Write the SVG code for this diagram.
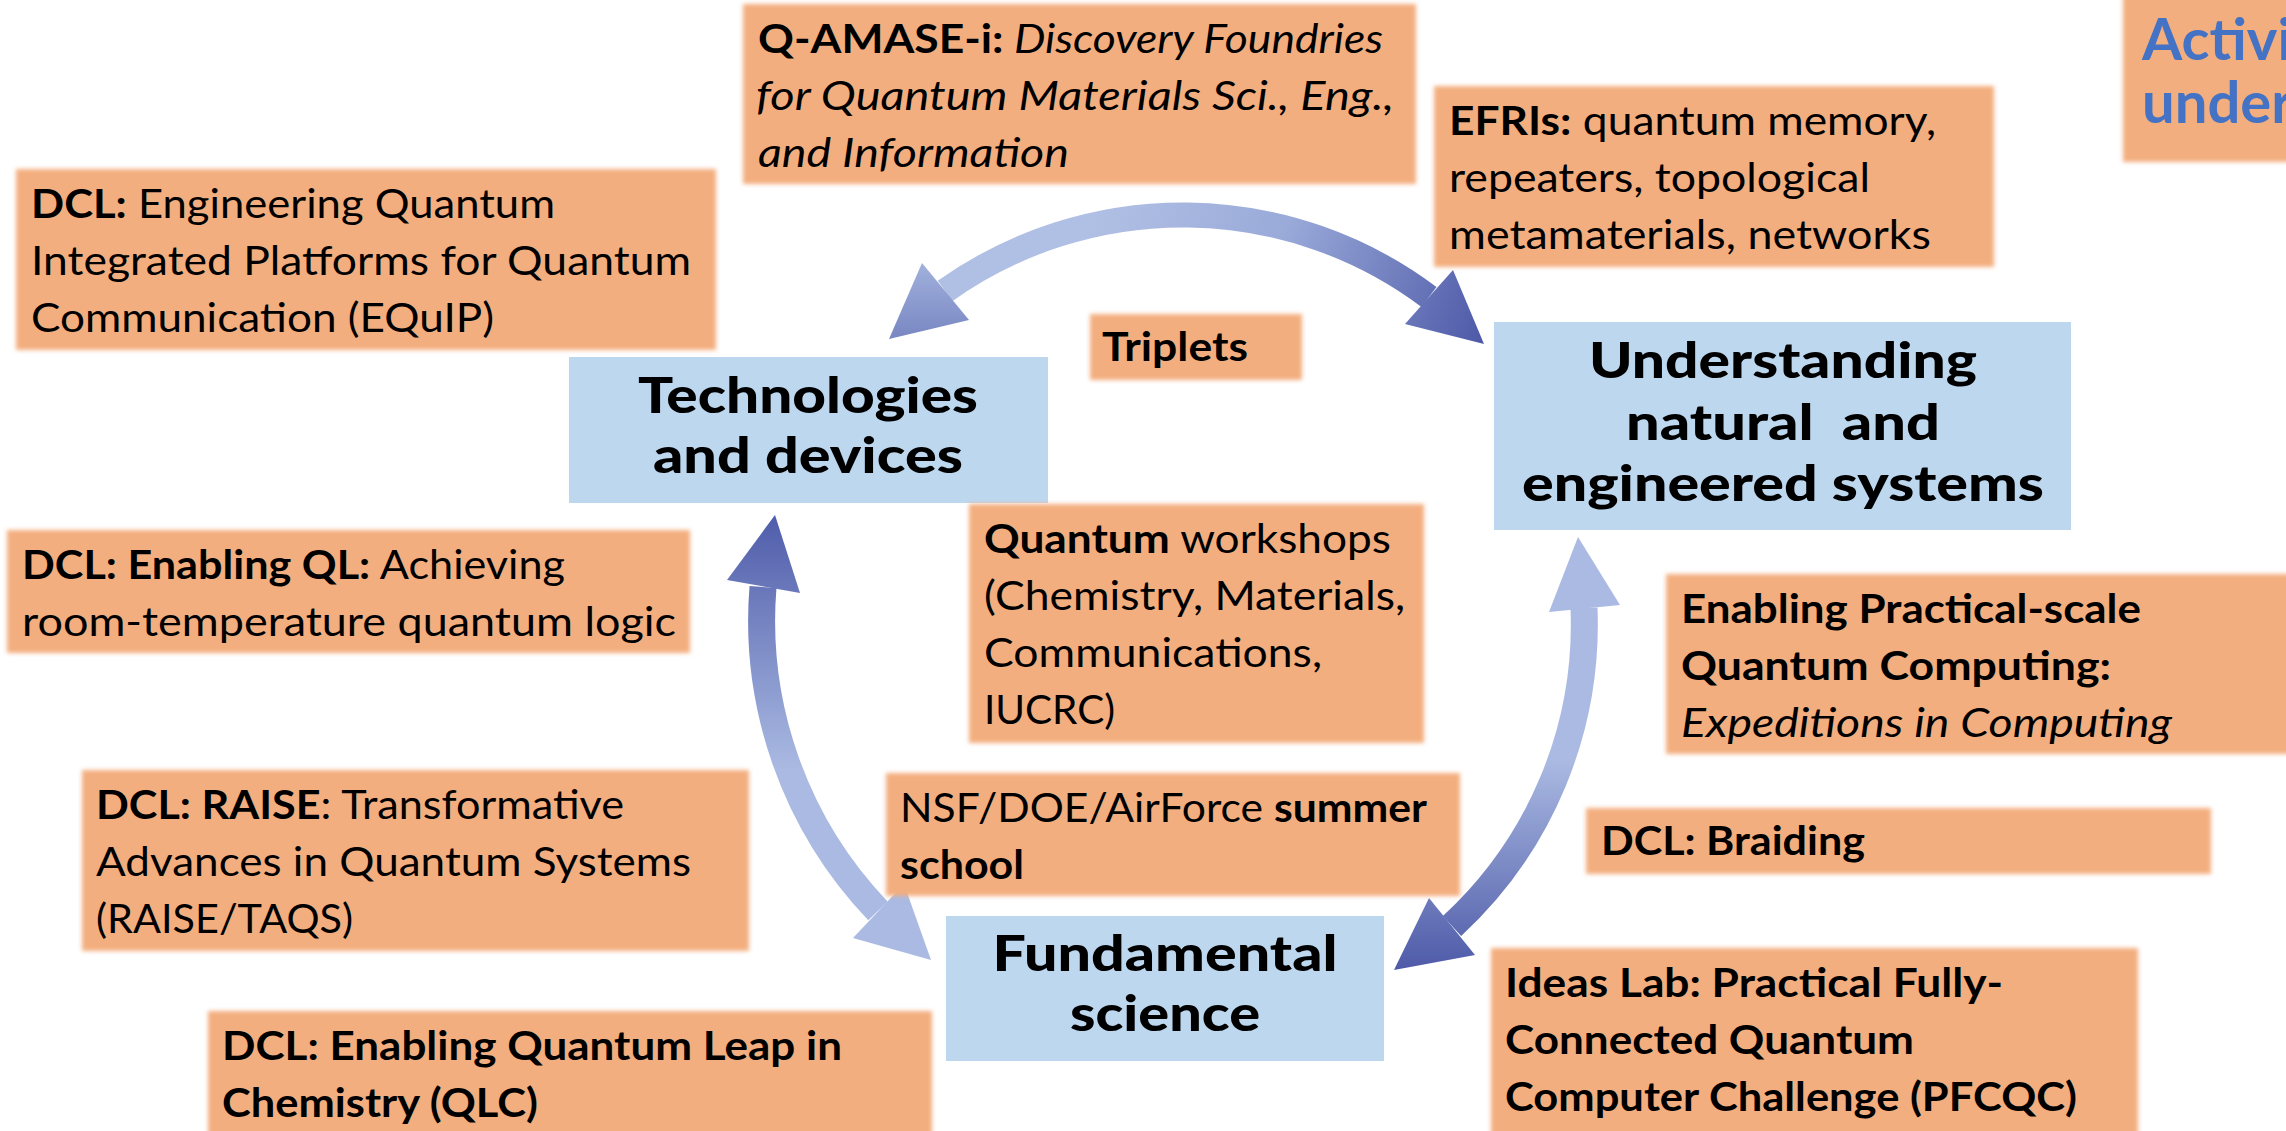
<svg xmlns="http://www.w3.org/2000/svg" width="2286" height="1131" viewBox="0 0 2286 1131">
<style>
.box{fill:#F3AE7F;filter:url(#soft)}
.core{fill:#BDD7EE}
.t{font-family:Lato,'Liberation Sans',sans-serif;font-size:40px;fill:#000}
.b{font-weight:bold}
.i{font-style:italic}
.h{font-family:Lato,'Liberation Sans',sans-serif;font-size:49px;font-weight:900;fill:#000;text-anchor:middle}
.band{fill:none}
</style>
<defs>
<filter id="soft" x="-5%" y="-10%" width="110%" height="120%"><feGaussianBlur stdDeviation="2"/></filter>
<linearGradient id="gTop" gradientUnits="userSpaceOnUse" x1="1100" y1="200" x2="1480" y2="345">
<stop offset="0" stop-color="#B0C0E4"/><stop offset="0.45" stop-color="#9AAAD9"/><stop offset="1" stop-color="#4E5AA8"/>
</linearGradient>
<linearGradient id="gTopL" gradientUnits="userSpaceOnUse" x1="0" y1="250" x2="0" y2="340">
<stop offset="0" stop-color="#A8B8E0"/><stop offset="1" stop-color="#7886C2"/>
</linearGradient>
<linearGradient id="gLeft" gradientUnits="userSpaceOnUse" x1="0" y1="515" x2="0" y2="770">
<stop offset="0" stop-color="#4F5CAA"/><stop offset="1" stop-color="#AABAE2"/>
</linearGradient>
<linearGradient id="gRight" gradientUnits="userSpaceOnUse" x1="0" y1="760" x2="0" y2="970">
<stop offset="0" stop-color="#AABAE2"/><stop offset="1" stop-color="#4E5AA8"/>
</linearGradient>
</defs>
<rect width="2286" height="1131" fill="#fff"/>

<g id="connectors">
<g id="arrow-top">
<path class="band" d="M 945 291 A 410 410 0 0 1 1429 297" stroke="url(#gTop)" stroke-width="25"/>
<polygon points="889,339 922,263 969,320" fill="url(#gTopL)"/>
<polygon points="1484,344 1453,270 1405,324" fill="url(#gTop)"/>
</g>
<g id="arrow-left">
<path class="band" d="M 763 587 A 420 420 0 0 0 878 911" stroke="url(#gLeft)" stroke-width="27"/>
<polygon points="775,515 727,580 800,593" fill="url(#gLeft)"/>
<polygon points="931,960 853,938 904,884" fill="url(#gLeft)"/>
</g>
<g id="arrow-right">
<path class="band" d="M 1584 608 A 410 410 0 0 1 1452 926" stroke="url(#gRight)" stroke-width="27"/>
<polygon points="1578,537 1549,612 1620,605" fill="url(#gRight)"/>
<polygon points="1394,970 1429,898 1475,955" fill="url(#gRight)"/>
</g>
</g>

<g id="node-qamase">
<rect class="box" x="743" y="4" width="673" height="180"/>
<text class="t" x="758" y="52.5" textLength="625" lengthAdjust="spacingAndGlyphs"><tspan class="b">Q-AMASE-i:</tspan><tspan class="i"> Discovery Foundries</tspan></text>
<text class="t i" x="756" y="110" textLength="638" lengthAdjust="spacingAndGlyphs">for Quantum Materials Sci., Eng.,</text>
<text class="t i" x="758" y="167" textLength="311" lengthAdjust="spacingAndGlyphs">and Information</text>
</g>

<g id="node-equip">
<rect class="box" x="16" y="169" width="700" height="181"/>
<text class="t" x="31" y="218" textLength="524" lengthAdjust="spacingAndGlyphs"><tspan class="b">DCL:</tspan> Engineering Quantum</text>
<text class="t" x="31" y="275" textLength="660" lengthAdjust="spacingAndGlyphs">Integrated Platforms for Quantum</text>
<text class="t" x="31" y="332" textLength="463" lengthAdjust="spacingAndGlyphs">Communication (EQuIP)</text>
</g>

<g id="node-efri">
<rect class="box" x="1434" y="86" width="560" height="181"/>
<text class="t" x="1449" y="134.5" textLength="487" lengthAdjust="spacingAndGlyphs"><tspan class="b">EFRIs:</tspan> quantum memory,</text>
<text class="t" x="1449" y="192" textLength="421" lengthAdjust="spacingAndGlyphs">repeaters, topological</text>
<text class="t" x="1449" y="249" textLength="482" lengthAdjust="spacingAndGlyphs">metamaterials, networks</text>
</g>

<g id="node-activi">
<rect class="box" x="2123" y="-6" width="180" height="168"/>
<text class="t b" x="2142" y="60" style="font-size:58px;fill:#4472C4">Activi</text>
<text class="t b" x="2142" y="123" style="font-size:58px;fill:#4472C4">under</text>
</g>

<g id="node-triplets">
<rect class="box" x="1090" y="314" width="212" height="66"/>
<text class="t b" x="1102" y="361" textLength="146" lengthAdjust="spacingAndGlyphs">Triplets</text>
</g>

<g id="node-technologies">
<rect class="core" x="569" y="357" width="479" height="146"/>
<text class="h" x="808" y="412.5" textLength="340" lengthAdjust="spacingAndGlyphs">Technologies</text>
<text class="h" x="808" y="472.5" textLength="310" lengthAdjust="spacingAndGlyphs">and devices</text>
</g>

<g id="node-understanding">
<rect class="core" x="1494" y="322" width="577" height="208"/>
<text class="h" x="1783" y="378" textLength="388" lengthAdjust="spacingAndGlyphs">Understanding</text>
<text class="h" x="1783" y="440" textLength="314" lengthAdjust="spacingAndGlyphs" xml:space="preserve">natural  and</text>
<text class="h" x="1783" y="501" textLength="522" lengthAdjust="spacingAndGlyphs">engineered systems</text>
</g>

<g id="node-fundamental">
<rect class="core" x="946" y="916" width="438" height="145"/>
<text class="h" x="1165" y="970.5" textLength="345" lengthAdjust="spacingAndGlyphs">Fundamental</text>
<text class="h" x="1165" y="1030.5" textLength="190" lengthAdjust="spacingAndGlyphs">science</text>
</g>

<g id="node-workshops">
<rect class="box" x="969" y="504" width="455" height="239"/>
<text class="t" x="984" y="552.5" textLength="407" lengthAdjust="spacingAndGlyphs"><tspan class="b">Quantum</tspan> workshops</text>
<text class="t" x="984" y="610" textLength="421" lengthAdjust="spacingAndGlyphs">(Chemistry, Materials,</text>
<text class="t" x="984" y="667" textLength="338" lengthAdjust="spacingAndGlyphs">Communications,</text>
<text class="t" x="984" y="724" textLength="131" lengthAdjust="spacingAndGlyphs">IUCRC)</text>
</g>

<g id="node-enablingql">
<rect class="box" x="7" y="530" width="683" height="123"/>
<text class="t" x="22" y="578.5" textLength="543" lengthAdjust="spacingAndGlyphs"><tspan class="b">DCL: Enabling QL:</tspan> Achieving</text>
<text class="t" x="22" y="636" textLength="654" lengthAdjust="spacingAndGlyphs">room-temperature quantum logic</text>
</g>

<g id="node-practical">
<rect class="box" x="1666" y="574" width="640" height="180"/>
<text class="t b" x="1681" y="622.5" textLength="460" lengthAdjust="spacingAndGlyphs">Enabling Practical-scale</text>
<text class="t b" x="1681" y="680" textLength="430" lengthAdjust="spacingAndGlyphs">Quantum Computing:</text>
<text class="t i" x="1681" y="737" textLength="491" lengthAdjust="spacingAndGlyphs">Expeditions in Computing</text>
</g>

<g id="node-raise">
<rect class="box" x="82" y="770" width="667" height="181"/>
<text class="t" x="96" y="818.5" textLength="528" lengthAdjust="spacingAndGlyphs"><tspan class="b">DCL: RAISE</tspan>: Transformative</text>
<text class="t" x="96" y="876" textLength="595" lengthAdjust="spacingAndGlyphs">Advances in Quantum Systems</text>
<text class="t" x="96" y="933" textLength="257" lengthAdjust="spacingAndGlyphs">(RAISE/TAQS)</text>
</g>

<g id="node-summer">
<rect class="box" x="886" y="773" width="574" height="123"/>
<text class="t" x="900" y="821.5" textLength="527" lengthAdjust="spacingAndGlyphs">NSF/DOE/AirForce <tspan class="b">summer</tspan></text>
<text class="t b" x="900" y="879" textLength="124" lengthAdjust="spacingAndGlyphs">school</text>
</g>

<g id="node-braiding">
<rect class="box" x="1586" y="808" width="625" height="66"/>
<text class="t b" x="1601" y="855" textLength="264" lengthAdjust="spacingAndGlyphs">DCL: Braiding</text>
</g>

<g id="node-ideaslab">
<rect class="box" x="1491" y="948" width="647" height="192"/>
<text class="t b" x="1505" y="996.5" textLength="498" lengthAdjust="spacingAndGlyphs">Ideas Lab: Practical Fully-</text>
<text class="t b" x="1505" y="1054" textLength="409" lengthAdjust="spacingAndGlyphs">Connected Quantum</text>
<text class="t b" x="1505" y="1111" textLength="572" lengthAdjust="spacingAndGlyphs">Computer Challenge (PFCQC)</text>
</g>

<g id="node-qlc">
<rect class="box" x="208" y="1011" width="724" height="130"/>
<text class="t b" x="222" y="1059.5" textLength="620" lengthAdjust="spacingAndGlyphs">DCL: Enabling Quantum Leap in</text>
<text class="t b" x="222" y="1117" textLength="316" lengthAdjust="spacingAndGlyphs">Chemistry (QLC)</text>
</g>
</svg>
